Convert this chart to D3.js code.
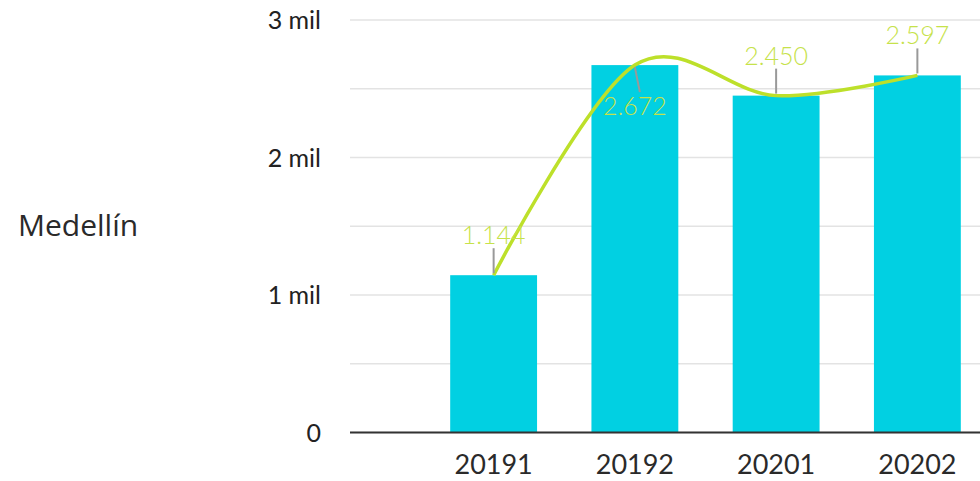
<!DOCTYPE html>
<html>
<head>
<meta charset="utf-8">
<script src="https://cdn.jsdelivr.net/npm/d3@7"></script>
<style>
  body { margin: 0; background: #fff; }
</style>
</head>
<body>
<div id="chart"></div>
<script>
// data
var categories = ["20191", "20192", "20201", "20202"];
var values = [1144, 2672, 2450, 2597];
var labelSide = ["above", "below", "above", "above"];
var yTicks = [0, 1000, 2000, 3000];
var gridTicks = [0, 500, 1000, 1500, 2000, 2500, 3000];
var rowLabel = "Medellín";

var W = 980, H = 481;

var svg = d3.select("#chart")
  .append("svg")
    .attr("width", W)
    .attr("height", H);

// scales
var x = d3.scaleBand()
  .domain(categories)
  .range([423, 988])
  .paddingInner(0.385)
  .paddingOuter(0.1925);

var y = d3.scaleLinear()
  .domain([0, 3000])
  .range([432.5, 20]);

// grid lines
svg.append("g")
  .selectAll("line")
  .data(gridTicks)
  .enter()
  .append("line")
    .attr("x1", 350)
    .attr("x2", W)
    .attr("y1", function(d) { return y(d); })
    .attr("y2", function(d) { return y(d); })
    .attr("stroke", "#e3e3e3")
    .attr("stroke-width", 1.5);

// y labels
svg.append("g")
  .selectAll("text")
  .data(yTicks)
  .enter()
  .append("text")
    .attr("x", 321)
    .attr("y", function(d) { return y(d); })
    .attr("dy", "0.36em")
    .attr("text-anchor", "end")
    .style("font-family", "Lato, sans-serif")
    .style("font-size", "25px")
    .style("fill", "#222")
    .text(function(d) { return d === 0 ? "0" : (d / 1000) + " mil"; });

// bars
svg.append("g")
  .selectAll("rect")
  .data(values)
  .enter()
  .append("rect")
    .attr("x", function(d, i) { return x(categories[i]); })
    .attr("y", function(d) { return y(d); })
    .attr("width", x.bandwidth())
    .attr("height", function(d) { return y(0) - y(d); })
    .attr("fill", "#01d0e2");

// x axis
var xAxis = svg.append("g")
  .attr("transform", "translate(0," + y(0) + ")")
  .call(d3.axisBottom(x).tickSize(0).tickPadding(22));
xAxis.select(".domain")
  .attr("d", "M350,0H" + W)
  .attr("stroke", "#333")
  .attr("stroke-width", 2);
xAxis.selectAll("text")
  .style("font-family", "Lato, sans-serif")
  .style("font-size", "27px")
  .style("fill", "#2a2a2a");

// line
var line = d3.line()
  .x(function(d, i) { return x(categories[i]) + x.bandwidth() / 2; })
  .y(function(d) { return y(d); })
  .curve(d3.curveCardinal);

svg.append("path")
  .datum(values)
  .attr("d", line)
  .attr("fill", "none")
  .attr("stroke", "#bde02a")
  .attr("stroke-width", 3.5);

// leader lines + data labels
var lab = svg.append("g");
values.forEach(function(v, i) {
  var cx = x(categories[i]) + x.bandwidth() / 2;
  var cy = y(v);
  var up = labelSide[i] === "above";
  lab.append("line")
    .attr("x1", cx)
    .attr("x2", up ? cx : cx + 5)
    .attr("y1", up ? cy - 2 : cy + 2)
    .attr("y2", up ? cy - 27 : cy + 27)
    .attr("stroke", "#999")
    .attr("stroke-width", 2);
  lab.append("text")
    .attr("x", cx)
    .attr("y", up ? cy - 31 : cy + 50)
    .attr("text-anchor", "middle")
    .style("font-family", "Lato, sans-serif")
    .style("font-weight", 300)
    .style("font-size", "25px")
    .style("fill", "#c6e24a")
    .text(d3.format(",")(v).replace(",", "."));
});

// row label
svg.append("text")
  .attr("x", 18)
  .attr("y", 225)
  .attr("dy", "0.36em")
  .style("font-family", "'Open Sans', sans-serif")
  .style("font-size", "30px")
  .style("fill", "#2a2a2a")
  .text(rowLabel);
</script>
</body>
</html>
